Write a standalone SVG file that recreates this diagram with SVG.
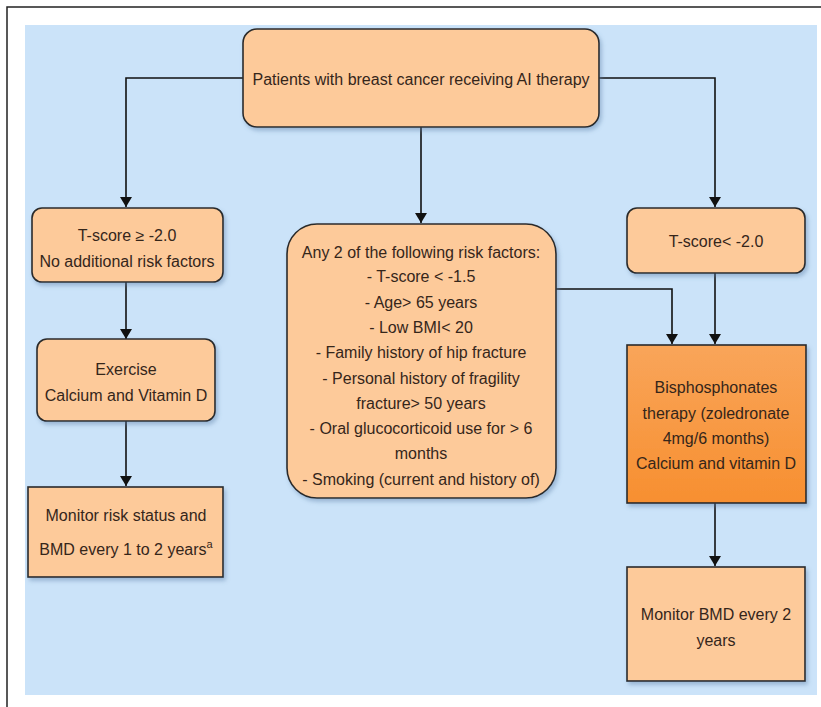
<svg xmlns="http://www.w3.org/2000/svg" width="821" height="707" viewBox="0 0 821 707">
  <defs>
    <style>
      .frame { fill: none; stroke: #222; stroke-width: 1.5; }
      .bg { fill: #cbe3f9; }
      .box { fill: #fdca9a; stroke: #2a2a2a; stroke-width: 1.6; filter: url(#shadow); }
      .box-hot { fill: url(#hot); stroke: #2a2a2a; stroke-width: 1.6; filter: url(#shadow); }
      .lbl { font-family: "Liberation Sans", Arial, sans-serif; font-size: 16px; fill: #35261a; text-anchor: middle; }
      .sup { font-size: 11px; }
      .conn-head { fill: none; stroke: #111; stroke-width: 1.6; marker-end: url(#arrow); }
    </style>
    <linearGradient id="hot" x1="0" y1="0" x2="0" y2="1">
      <stop offset="0" stop-color="#f9a55a"/>
      <stop offset="1" stop-color="#f78f30"/>
    </linearGradient>
    <filter id="shadow" x="-10%" y="-10%" width="125%" height="125%">
      <feDropShadow dx="2" dy="3" stdDeviation="2" flood-color="#5a7ea6" flood-opacity="0.45"/>
    </filter>
    <marker id="arrow" viewBox="0 0 10 12" refX="10" refY="6" markerWidth="10" markerHeight="12" markerUnits="userSpaceOnUse" orient="auto">
      <path d="M0,0 L10,6 L0,12 Z" fill="#111"/>
    </marker>
  </defs>

  <!-- outer frame and panel -->
  <path class="frame" d="M7,707 V7 H821"/>
  <rect class="bg" x="25" y="25" width="792" height="670"/>

  <!-- connectors -->
  <g id="connectors">
    <path class="conn-head" d="M243,78 H126 V207"/>
    <path class="conn-head" d="M599,78 H715 V207"/>
    <path class="conn-head" d="M421,127 V223"/>
    <path class="conn-head" d="M126,282 V339"/>
    <path class="conn-head" d="M126,421 V486"/>
    <path class="conn-head" d="M556,289 H672 V344"/>
    <path class="conn-head" d="M715,273 V344"/>
    <path class="conn-head" d="M715,503 V566"/>
  </g>

  <!-- start -->
  <g id="node-start">
    <rect class="box" x="243" y="29" width="356" height="98" rx="14"/>
    <text class="lbl" x="421" y="85">Patients with breast cancer receiving AI therapy</text>
  </g>

  <!-- left branch -->
  <g id="node-low-risk">
    <rect class="box" x="32" y="208" width="191" height="74" rx="10"/>
    <text class="lbl" x="127" y="241">T-score ≥ -2.0</text>
    <text class="lbl" x="127" y="267">No additional risk factors</text>
  </g>
  <g id="node-exercise">
    <rect class="box" x="37" y="339" width="178" height="82" rx="10"/>
    <text class="lbl" x="126" y="375">Exercise</text>
    <text class="lbl" x="126" y="401">Calcium and Vitamin D</text>
  </g>
  <g id="node-monitor-risk">
    <rect class="box" x="28" y="487" width="195" height="90"/>
    <text class="lbl" x="126" y="521">Monitor risk status and</text>
    <text class="lbl" x="126" y="555">BMD every 1 to 2 years<tspan class="sup" dy="-7">a</tspan></text>
  </g>

  <!-- middle branch -->
  <g id="node-risk-factors">
    <rect class="box" x="287" y="224" width="269" height="274" rx="30"/>
    <text class="lbl" x="421" y="258">Any 2 of the following risk factors:</text>
    <text class="lbl" x="421" y="282">- T-score &lt; -1.5</text>
    <text class="lbl" x="421" y="308">- Age&gt; 65 years</text>
    <text class="lbl" x="421" y="333">- Low BMI&lt; 20</text>
    <text class="lbl" x="421" y="358">- Family history of hip fracture</text>
    <text class="lbl" x="421" y="384">- Personal history of fragility</text>
    <text class="lbl" x="421" y="409">fracture&gt; 50 years</text>
    <text class="lbl" x="421" y="434">- Oral glucocorticoid use for &gt; 6</text>
    <text class="lbl" x="421" y="459">months</text>
    <text class="lbl" x="421" y="485">- Smoking (current and history of)</text>
  </g>

  <!-- right branch -->
  <g id="node-high-risk">
    <rect class="box" x="627" y="208" width="178" height="65" rx="10"/>
    <text class="lbl" x="716" y="247">T-score&lt; -2.0</text>
  </g>
  <g id="node-bisphosphonates">
    <rect class="box-hot" x="627" y="345" width="179" height="158"/>
    <text class="lbl" x="716" y="393">Bisphosphonates</text>
    <text class="lbl" x="716" y="419">therapy (zoledronate</text>
    <text class="lbl" x="716" y="444">4mg/6 months)</text>
    <text class="lbl" x="716" y="469">Calcium and vitamin D</text>
  </g>
  <g id="node-monitor-bmd">
    <rect class="box" x="627" y="567" width="178" height="114"/>
    <text class="lbl" x="716" y="620">Monitor BMD every 2</text>
    <text class="lbl" x="716" y="646">years</text>
  </g>
</svg>
